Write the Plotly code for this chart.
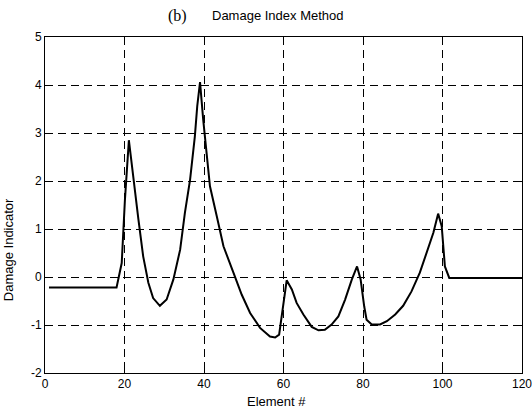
import plotly.graph_objects as go

# Data
element = [1, 18, 19.3, 20.1, 21.1, 22.2, 23.5, 24.7, 26, 27.2, 28.9, 30.6, 32.3, 34, 35.2, 36.5,
           37.7, 38.3, 39, 39.8, 40.7, 41.5, 43.2, 44.9, 47.4, 49.5, 51.6, 54.1, 56.6, 57.9, 58.9,
           59.8, 60.8, 62.1, 63.3, 65, 67.1, 68.8, 70.4, 72.1, 73.8, 75.5, 77.2, 78.5, 79.4, 80.3,
           80.9, 82.2, 84.3, 86, 88.1, 90.1, 92.2, 94.3, 96, 97.7, 98.9, 99.8, 100.6, 101.7, 120]
damage = [-0.22, -0.22, 0.29, 1.6, 2.85, 2.03, 1.20, 0.43, -0.12, -0.44, -0.60, -0.47, -0.05, 0.57,
          1.34, 2.03, 2.93, 3.56, 4.06, 3.28, 2.52, 1.89, 1.27, 0.64, 0.09, -0.37, -0.75, -1.06,
          -1.24, -1.26, -1.20, -0.68, -0.07, -0.26, -0.54, -0.78, -1.04, -1.11, -1.10, -0.99, -0.82,
          -0.47, -0.05, 0.22, -0.05, -0.61, -0.89, -0.99, -0.99, -0.92, -0.78, -0.60, -0.30, 0.09,
          0.50, 0.92, 1.32, 1.06, 0.22, -0.02, -0.02]
x_ticks = [0, 20, 40, 60, 80, 100, 120]
y_ticks = [-2, -1, 0, 1, 2, 3, 4, 5]

FONT = "Liberation Sans, Arial, sans-serif"

fig = go.Figure()
fig.add_trace(go.Scatter(x=element, y=damage, mode="lines",
                         line=dict(color="black", width=2), showlegend=False))

axis_common = dict(
    showline=True, linecolor="black", linewidth=1, mirror="ticks",
    ticks="inside", ticklen=4, tickcolor="black",
    showgrid=True, gridcolor="black", gridwidth=1, griddash="8px,5px",
    zeroline=False, tickfont=dict(family=FONT, size=12, color="black"),
    ticklabeloverflow="allow", automargin=False,
)

fig.update_xaxes(range=[0, 120], tickvals=x_ticks, ticktext=[str(v) for v in x_ticks],
                 **axis_common)
fig.update_yaxes(range=[-2, 5], tickvals=y_ticks, ticktext=[str(v) for v in y_ticks],
                 **axis_common)

fig.update_layout(
    width=532, height=410,
    margin=dict(l=45, r=10, t=37, b=37, autoexpand=False),
    paper_bgcolor="white", plot_bgcolor="white",
    annotations=[
        dict(text="(b)", x=0.277, y=1.063, xref="paper", yref="paper", showarrow=False,
             xanchor="center", yanchor="middle",
             font=dict(family="Liberation Serif, Times New Roman, serif", size=16, color="black")),
        dict(text="Damage Index Method", x=0.488, y=1.063, xref="paper", yref="paper",
             showarrow=False, xanchor="center", yanchor="middle",
             font=dict(family=FONT, size=13, color="black")),
        dict(text="Element #", x=0.486, y=-0.085, xref="paper", yref="paper", showarrow=False,
             xanchor="center", yanchor="middle",
             font=dict(family=FONT, size=13, color="black")),
        dict(text="Damage Indicator", x=-0.0765, y=0.367, xref="paper", yref="paper",
             showarrow=False, textangle=-90, xanchor="center", yanchor="middle",
             font=dict(family=FONT, size=13, color="black")),
    ],
)

fig.write_html("out.html", config={"displayModeBar": False},
               post_script="document.body.style.margin='0';")
